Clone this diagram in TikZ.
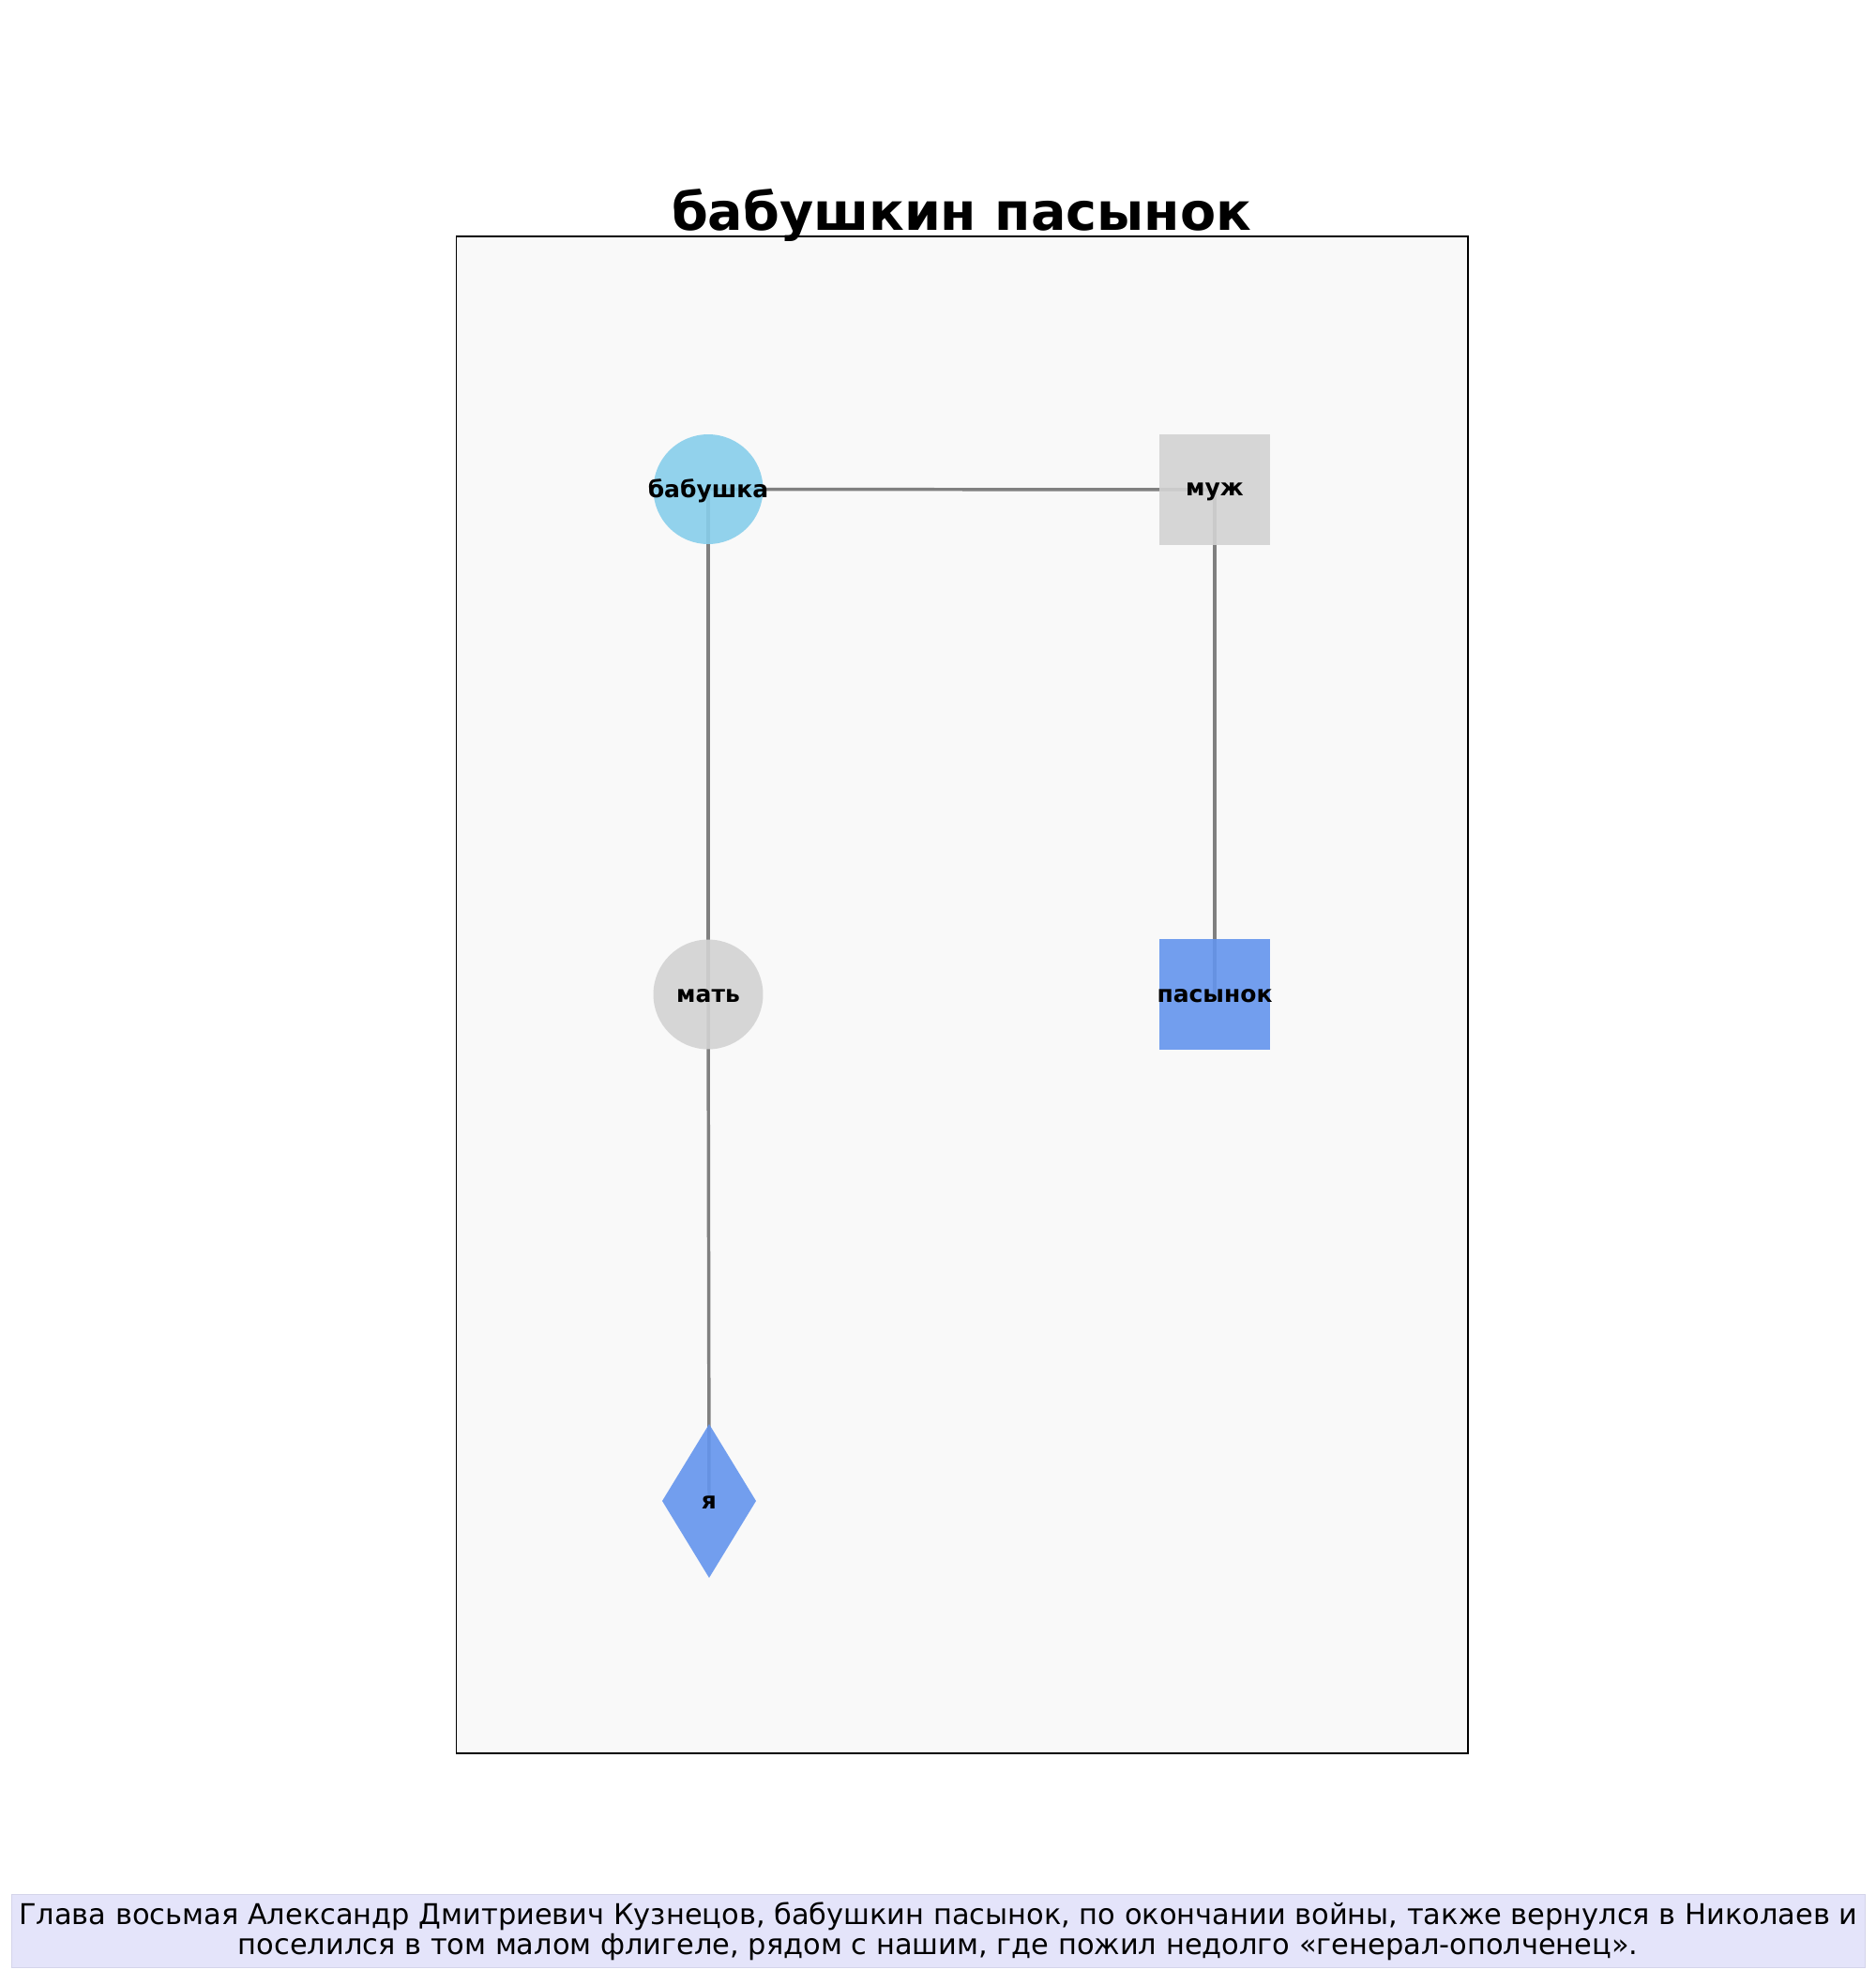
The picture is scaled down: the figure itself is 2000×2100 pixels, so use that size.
\documentclass[tikz,border=0pt]{standalone}
\usepackage{fontspec}
\setmainfont{DejaVu Sans}
\usetikzlibrary{shapes.geometric}
\definecolor{skyb}{HTML}{87CEEB}
\definecolor{cornb}{HTML}{6495ED}
\definecolor{lgray}{HTML}{D3D3D3}
\definecolor{framebg}{HTML}{F9F9F9}
\definecolor{capfill}{HTML}{E4E4FA}
\definecolor{capdraw}{HTML}{D4D4EA}
\pgfdeclarelayer{bg}
\pgfdeclarelayer{edges}
\pgfsetlayers{bg,edges,main}
\tikzset{
  person/.style={inner sep=0pt, outer sep=0pt, fill opacity=0.9, draw=none},
  circ/.style={person, circle, minimum size=42.1pt},
  sq/.style={person, rectangle, minimum size=42.5pt},
  dia/.style={person, diamond, minimum width=36pt, minimum height=59pt, aspect=0.61},
  lbl/.style={font=\fontsize{9}{11}\selectfont\bfseries, inner sep=0pt, yshift=-0.7pt},
  link/.style={draw=gray, line width=1.25pt},
}
\begin{document}
\begin{tikzpicture}[x=0.36pt,y=-0.36pt]
\useasboundingbox (0,0) rectangle (2000,2100);
\begin{pgfonlayer}{bg}
\fill[white] (0,0) rectangle (2000,2100);
\draw[fill=framebg, draw=black, line width=0.45pt] (486.5,252) rectangle (1565,1869);
\end{pgfonlayer}
\node[font=\fontsize{20}{24}\selectfont\bfseries, anchor=base, inner sep=0pt] (title) at (1025,245) {бабушкин пасынок};
\node[circ, fill=skyb] (bab) at (755,521.5) {};
\node[sq, fill=lgray] (muz) at (1295,522) {};
\node[circ, fill=lgray] (mat) at (755,1060) {};
\node[sq, fill=cornb] (pas) at (1295,1060) {};
\node[dia, fill=cornb] (ya) at (756,1600) {};
\node[lbl] (babl) at (bab.center) {бабушка};
\node[lbl] (muzl) at (muz.center) {муж};
\node[lbl] (matl) at (mat.center) {мать};
\node[lbl] (pasl) at (pas.center) {пасынок};
\node[lbl] (yal) at (ya.center) {я};
\begin{pgfonlayer}{edges}
\draw[link] (bab.center) -- (muz.center);
\draw[link] (bab.center) -- (mat.center);
\draw[link] (mat.center) -- (ya.center);
\draw[link] (muz.center) -- (pas.center);
\end{pgfonlayer}
\node[fill=capfill, draw=capdraw, line width=0.4pt, minimum width=711.4pt, minimum height=28.2pt, inner sep=0pt, align=center, font=\fontsize{10.96}{11.4}\selectfont] (cap) at (1000.3,2058.5) {Глава восьмая Александр Дмитриевич Кузнецов, бабушкин пасынок, по окончании войны, также вернулся в Николаев и\\поселился в том малом флигеле, рядом с нашим, где пожил недолго «генерал-ополченец».};
\end{tikzpicture}
\end{document}
